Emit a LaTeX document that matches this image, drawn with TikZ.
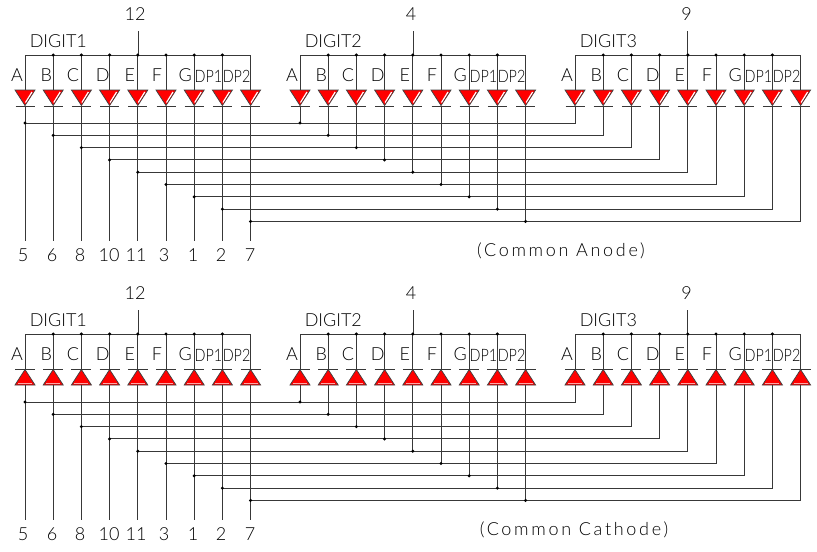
\documentclass[tikz,border=0pt]{standalone}
\usepackage{fontspec}
\setmainfont{Lato Light}
\newfontfamily\capfont[LetterSpace=15]{Lato Light}
\tikzset{x=0.75pt,y=-0.75pt,
 wire/.style={draw=black!78,line width=0.62pt},
 lbl/.style={inner sep=0pt,font=\fontsize{13.5}{14}\selectfont,text=black},
}
\newcommand{\ledA}[2]{%
 \fill[red] (#1-10,#2-7.5) -- (#1+10,#2-7.5) -- (#1,#2+8) -- cycle;
 \draw[white,line width=0.9pt] (#1+7,#2-5.5) -- (#1+0.5,#2+5);
 \draw[black!75,line width=0.55pt] (#1-10,#2-7.5) -- (#1+10,#2-7.5) -- (#1,#2+8) -- cycle;
 \draw[black!78,line width=0.62pt] (#1-9.5,#2+8.7) -- (#1+9.5,#2+8.7);}
\newcommand{\ledC}[2]{%
 \fill[red] (#1-10,#2+8.5) -- (#1+10,#2+8.5) -- (#1,#2-7) -- cycle;
 \draw[red!35,line width=0.8pt] (#1-7,#2+7) -- (#1+7,#2+7);
 \draw[black!75,line width=0.55pt] (#1-10,#2+8.5) -- (#1+10,#2+8.5) -- (#1,#2-7) -- cycle;
 \draw[black!78,line width=0.62pt] (#1-10,#2-7.5) -- (#1+10,#2-7.5);}
\begin{document}
\begin{tikzpicture}
\useasboundingbox (0,0) rectangle (817,551);
\fill[white] (0,0) rectangle (817,551);
\foreach \yo/\kind/\capt/\cx in {0/A/{(Common Anode)}/561, 279/C/{(Common Cathode)}/574}{
 \begin{scope}[yshift=-\yo*0.75pt]
 \foreach \g/\gi/\pin/\pinx/\pinl in {25/1/12/138/135, 300/2/4/413/411, 575/3/9/687.5/686.7}{
  \draw[wire] (\pinx,31) -- (\pinx,55);
  \draw[wire] (\g,55) -- (\g+225.6,55);
  \node[lbl] at (\pinl,14) {\pin};
  \node[lbl,anchor=west] at (\g+4.5,41) {DIGIT\gi};
  \foreach \i/\nm/\dx in {0/A/8,1/B/7,2/C/8.5,3/D/7,4/E/8,5/F/9,6/G/9}{
   \node[lbl] at ({\g+\i*28.2-\dx},75.5) {\nm};
  }
  \node[lbl] at ({\g+7*28.2-14},76) {\scalebox{0.8}[0.95]{DP1}};
  \node[lbl] at ({\g+8*28.2-14},76) {\scalebox{0.8}[0.95]{DP2}};
  \foreach \i in {0,...,8}{
   \pgfmathsetmacro{\xx}{\g+\i*28.2}
   \draw[wire] (\xx,55) -- (\xx,90);
   \ifnum\i>0 \ifnum\i<8 \fill (\xx,55) circle (1.7); \fi\fi
   \csname led\kind\endcsname{\xx}{97.5}
  }
 }
 \foreach \i/\pn/\lx in {0/5/23,1/6/52,2/8/80,3/10/109,4/11/136,5/3/164,6/1/193,7/2/221,8/7/250}{
  \pgfmathsetmacro{\xa}{25+\i*28.2}
  \pgfmathsetmacro{\xb}{300+\i*28.2}
  \pgfmathsetmacro{\xc}{575+\i*28.2}
  \pgfmathsetmacro{\yy}{123+\i*12.3}
  \draw[wire] (\xa,106) -- (\xa,241);
  \draw[wire] (\xb,106) -- (\xb,\yy);
  \draw[wire] (\xc,106) -- (\xc,\yy) -- (\xa,\yy);
  \fill (\xa,\yy) circle (1.7);
  \fill (\xb,\yy) circle (1.7);
  \node[lbl] at (\lx,255) {\pn};
 }
 \node[lbl,font=\fontsize{13.5}{14}\capfont] at (\cx,251) {\capt};
 \end{scope}
}
\end{tikzpicture}
\end{document}
